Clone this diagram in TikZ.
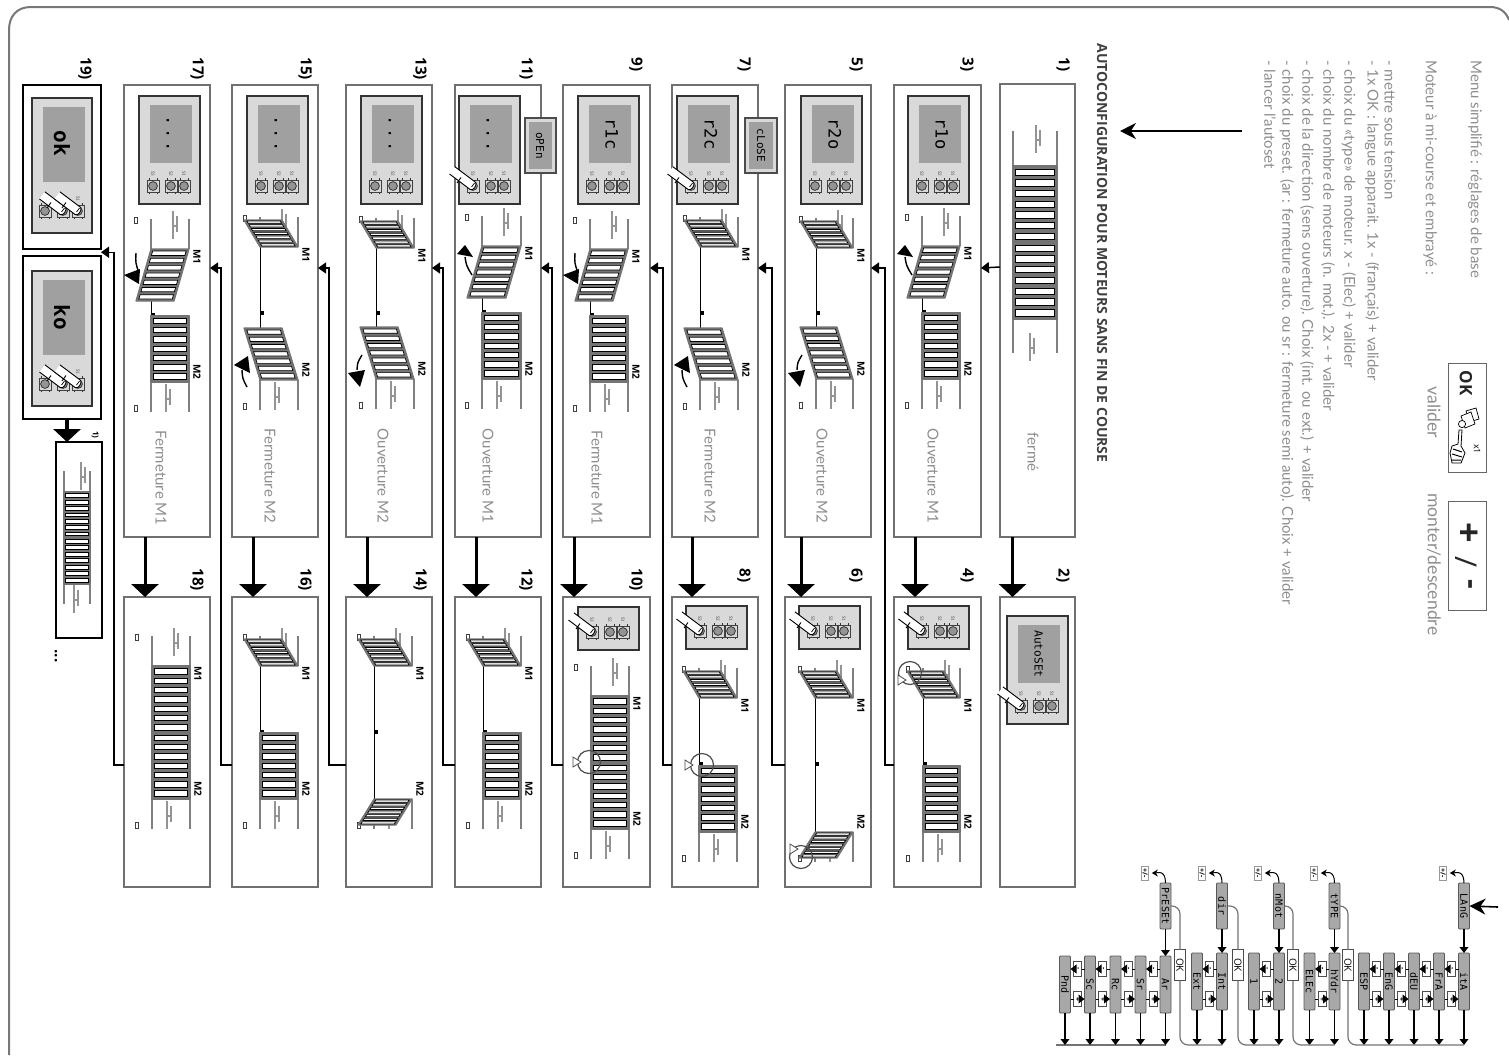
\documentclass[tikz,border=0pt]{standalone}
\usepackage{graphicx}
\usepackage{fontspec}
\usetikzlibrary{arrows.meta,calc}
\setmainfont{Lato}
\newfontfamily\segf{DejaVu Sans Mono}
\newfontfamily\headf{Open Sans}
\definecolor{bline}{HTML}{777777}
\definecolor{pline}{HTML}{707070}
\definecolor{lighttxt}{HTML}{8E8E8E}
\definecolor{boardbg}{HTML}{D9D9D9}
\definecolor{lcdbg}{HTML}{A0A0A0}
\definecolor{frameg}{HTML}{747474}
\definecolor{railg}{HTML}{808080}
\definecolor{tickg}{HTML}{949494}
\definecolor{nodeg}{HTML}{A8A8A8}
\newcommand{\rt}[1]{\rotatebox{-90}{#1}}
\tikzset{
  panelbox/.style={draw=pline,line width=.55pt,inner sep=0pt,outer sep=0pt,fill=white},
  strongbox/.style={draw=black,line width=1pt,inner sep=0pt,outer sep=0pt,fill=white},
  gtext/.style={inner sep=0pt,text=lighttxt,font=\fontsize{7.5}{9}\selectfont},
  gtextb/.style={inner sep=0pt,text=lighttxt,font=\fontsize{8.8}{10}\selectfont},
  htext/.style={inner sep=0pt,text=black!75,font=\headf\bfseries\fontsize{7}{8}\selectfont},
  numtext/.style={inner sep=0pt,text=black,font=\headf\bfseries\fontsize{7.6}{9}\selectfont},
  mtext/.style={inner sep=0pt,text=black,font=\headf\bfseries\fontsize{5}{6}\selectfont},
  lcdtext/.style={inner sep=0pt,text=black,font=\segf\fontsize{8.5}{9}\selectfont},
  leafframe/.style={draw=black!55,fill=frameg,line width=.6pt,line join=round},
  slat/.style={draw=black,fill=white,line width=.35pt},
  rail/.style={draw=railg,line width=.7pt},
  tickline/.style={draw=tickg,line width=.55pt},
  bigarrow/.style={draw=black,line width=1.5pt,-{Triangle[length=6.5pt,width=13.5pt]}},
  elbowarrow/.style={draw=black,line width=.75pt,-{Triangle[length=4pt,width=5.5pt]}},
  fnode/.style={draw=black!65,fill=nodeg,rounded corners=.5pt,inner sep=0pt,outer sep=0pt,
     text=black,font=\segf\fontsize{5}{6}\selectfont,minimum width=5.5pt},
  smallbox/.style={draw=black!70,fill=white,inner sep=0pt,outer sep=0pt,text=black,line width=.35pt,
     font=\headf\bfseries\fontsize{3.5}{4}\selectfont,minimum width=4pt,minimum height=7.5pt},
  okbox/.style={draw=black!70,fill=white,inner sep=0pt,outer sep=0pt,text=black,line width=.4pt,
     font=\headf\fontsize{5}{6}\selectfont,minimum width=5.5pt,minimum height=15.5pt},
  pmbox/.style={draw=black!40,fill=white,inner sep=0pt,outer sep=0pt,text=black,line width=.4pt,
     font=\headf\bfseries\fontsize{3.5}{4}\selectfont,minimum width=3.8pt,minimum height=7pt},
  farrow/.style={draw=black,line width=.55pt,-{Triangle[length=3pt,width=4.4pt]}},
  fgray/.style={draw=black!55,line width=.6pt,rounded corners=4pt}
}
\newcommand{\panel}[6][panelbox]{%
  \node[#1,minimum width={(#5-#3)*0.5pt},minimum height={(#6-#4)*0.5pt}] (#2) at ({(#3+#5)/2},{(#4+#6)/2}) {};}
\newcommand{\leaf}[5]{%
  \draw[leafframe] (#1,#3) -- (#2,#3) -- ({#2+#5},{#4}) -- ({#1+#5},{#4}) -- cycle;
  \foreach \i in {0,...,6}{%
    \pgfmathsetmacro\ta{0.04+0.14*\i}%
    \pgfmathsetmacro\tb{\ta+0.083}%
    \draw[slat] ({#1+0.06*(#2-#1)+\ta*(#5)},{#3+\ta*(#4-#3)}) -- ({#2-0.06*(#2-#1)+\ta*(#5)},{#3+\ta*(#4-#3)}) -- ({#2-0.06*(#2-#1)+\tb*(#5)},{#3+\tb*(#4-#3)}) -- ({#1+0.06*(#2-#1)+\tb*(#5)},{#3+\tb*(#4-#3)}) -- cycle;
  }}
\newcommand{\moneC}[3]{\leaf{#1}{#2}{#3}{#3+66.5}{0}}
\newcommand{\moneH}[3]{\leaf{#1}{#2}{#3}{#3+52}{-15}}
\newcommand{\moneO}[3]{\leaf{#1}{#2}{#3}{#3-27}{-16}}
\newcommand{\mtwoC}[3]{\leaf{#1}{#2}{#3}{#3-66.5}{0}}
\newcommand{\mtwoH}[3]{\leaf{#1}{#2}{#3}{#3-52}{-16}}
\newcommand{\mtwoO}[3]{\leaf{#1}{#2}{#3}{#3+26}{-16}}
\newcommand{\tickm}[2]{%
  \draw[tickline] ({#1},{#2-14}) -- ({#1},{#2+14});
  \draw[tickline] ({#1+4},{#2-9}) -- ({#1+4},{#2+7});
  \draw[tickline] ({#1},{#2+1}) -- ({#1+4},{#2+1});}
\newcommand{\lampm}[2]{\draw[draw=black!75,fill=white,line width=.35pt] ({#1-1.5},{#2-3}) rectangle ({#1+1.5},{#2+3});}
\newcommand{\gate}[6]{%
  \draw[rail] (#1,{#3-30}) -- (#1,#3) (#2,{#3-30}) -- (#2,#3) (#1,#4) -- (#1,{#4+30}) (#2,#4) -- (#2,{#4+30});
  \tickm{#1+22}{#3-24}
  \tickm{#1+15}{#4+16}
  \lampm{#1-15}{#3-29}
  \lampm{#1-15}{#4+26}
  \draw[black,line width=.5pt] (#1,#3) -- (#1,#4);
  \fill[black] ({#1},{(#3+#4)/2-3}) rectangle ({#1+4},{(#3+#4)/2+1});
  \csname mone#5\endcsname{#1}{#2}{#3}
  \csname mtwo#6\endcsname{#1}{#2}{#4}
  \node[mtext] (mone#1) at ({#2+8},{#3+8}) {\rt{M1}};
  \node[mtext] (mtwo#1) at ({#2+8},{#4-10}) {\rt{M2}};}
\newcommand{\onebtn}[3]{%
  \draw[black!80,line width=.5pt] ({#1-4},{#2-8}) -- ({#1-4},{#2+8}) ({#1+4},{#2-8}) -- ({#1+4},{#2+8});
  \draw[draw=black!75,fill=boardbg,line width=.5pt] ({#1-6},{#2-6}) rectangle ({#1+6},{#2+6});
  \draw[draw=black!80,fill=black!42,line width=.4pt] ({#1},{#2}) circle[radius=4.4];
  \node[inner sep=0pt,text=black!70,font=\fontsize{2.2}{3}\selectfont] (lab#3x#1) at ({#1},{#2-12}) {\rt{#3}};}
\newcommand{\btns}[2]{\onebtn{#1+14}{#2}{S3}\onebtn{#1+32}{#2}{S2}\onebtn{#1+45}{#2}{S1}}
\newcommand{\boardL}[3]{%
  \draw[draw=black!80,fill=boardbg,line width=.8pt] (#1,#2) rectangle ({#1+61},{#2+108});
  \fill[lcdbg] ({#1+11},{#2+9}) rectangle ({#1+53},{#2+67});
  \node[lcdtext] (lcd#1) at ({#1+32},{#2+38}) {\rt{\vphantom{Ag}#3}};
  \btns{#1}{#2+90}}
\newcommand{\boardS}[2]{%
  \draw[draw=black!80,fill=boardbg,line width=.8pt] (#1,#2) rectangle ({#1+61},{#2+43});
  \btns{#1}{#2+25}}
\newcommand{\finger}[2]{%
  \fill[white] ({#1+2.7},{#2-3.6}) .. controls ({#1+4},{#2}) and ({#1},{#2+5}) .. ({#1-2.7},{#2+3.6}) -- ({#1-23.5},{#2-12}) -- ({#1-18.1},{#2-19.2}) -- cycle;
  \draw[black,line width=.45pt] ({#1-18.1},{#2-19.2}) -- ({#1+2.7},{#2-3.6}) .. controls ({#1+4},{#2}) and ({#1},{#2+5}) .. ({#1-2.7},{#2+3.6}) -- ({#1-23.5},{#2-12});
  \draw[black,line width=.45pt] ({#1-16},{#2-3}) -- ({#1-12},{#2-8.5});
  \draw[black,line width=.35pt] ({#1-1.5},{#2+1}) -- ({#1+1.5},{#2-3});}
\newcommand{\spot}[4]{%
  \draw[draw=black!70,line width=.6pt] (#1,#2) circle[radius=11.5];
  \draw[draw=black!70,fill=white,line width=.4pt] ({#1+#3},{#2+#4-5}) -- ({#1+#3},{#2+#4+5}) -- ({#1+#3+8},{#2+#4}) -- cycle;}
\newcommand{\swing}[7]{%
  \draw[black,line width=.7pt] ({#1},{#2}) .. controls ({(#1+#3)/2-2},{(#2+#4)/2}) .. ({#3},{#4});
  \fill[black] #5 -- #6 -- #7 -- cycle;}
\newcommand{\swingOneOpen}[1]{\swing{#1-10}{275}{#1-17}{257}{({#1-25},254)}{({#1-9},257)}{({#1-17},245)}}
\newcommand{\swingOneClose}[1]{\swing{#1-15}{253}{#1-12}{273}{({#1-27},275)}{({#1-11},269)}{({#1-12},284)}}
\newcommand{\swingTwoOpen}[1]{\swing{#1-14}{355}{#1-19}{370}{({#1-28},373)}{({#1-11},370)}{({#1-16},387)}}
\newcommand{\swingTwoClose}[1]{\swing{#1-13}{387}{#1-18}{370}{({#1-26},365)}{({#1-10},373)}{({#1-12},356)}}
\newcommand{\leftlabel}[4]{\node[gtext,anchor=center] (#1) at (#2,#3) {\rt{#4}};}
\newcommand{\numlabel}[4]{\node[numtext,anchor=north] (#1) at (#2,#3) {\rt{#4}};}
\newcommand{\bigarr}[3]{\draw[bigarrow] ([xshift=#3*0.5pt]#1.south) -- ([xshift=#3*0.5pt]#1.south |- #2.north);}
\newcommand{\elbowm}[3]{\draw[elbowarrow] ([yshift=-11.5pt]#1.west) -- ++(-#3,0) |- ([yshift=21.5pt]#2.east);}
\begin{document}
\begin{tikzpicture}[x=0.5pt,y=-0.5pt]
\useasboundingbox (0,0) rectangle (1509,1055);
% page border
\draw[bline,line width=1pt] (9,1055) -- (9,30) .. controls (9,16) and (17,7) .. (31,7) -- (1490,7) .. controls (1500,7) and (1506,12) .. (1509,20);

% explanatory text
\node[gtext,anchor=north] (tmenu) at (1475,60) {\rt{Menu simplifié : réglages de base}};
\node[gtext,anchor=north] (tmot) at (1430,60) {\rt{Moteur à mi-course et embrayé :}};
\node[gtext,anchor=north] (t1) at (1390,60) {\rt{- mettre sous tension}};
\node[gtext,anchor=north] (t2) at (1372,60) {\rt{- 1x OK : langue apparait. 1x - (français) + valider}};
\node[gtext,anchor=north] (t3) at (1349,60) {\rt{- choix du «type» de moteur. x - (Elec) + valider}};
\node[gtext,anchor=north] (t4) at (1328,60) {\rt{- choix du nombre de moteurs (n. mot.). 2x - + valider}};
\node[gtext,anchor=north] (t5) at (1307,60) {\rt{- choix de la direction (sens ouverture). Choix (int. ou ext.) + valider}};
\node[gtext,anchor=north] (t6) at (1287,60) {\rt{- choix du preset. (ar : fermeture auto. ou sr : fermeture semi auto). Choix + valider}};
\node[gtext,anchor=north] (t7) at (1270,60) {\rt{- lancer l'autoset}};
\node[htext,anchor=north] (thead) at (1102,43) {\rt{AUTOCONFIGURATION POUR MOTEURS SANS FIN DE COURSE}};
\coordinate (toparrowA) at (1242,131);
\coordinate (toparrowB) at (1120,131);
\draw[black,line width=.8pt,-{Stealth[length=8pt,width=8pt]}] (toparrowA) -- (toparrowB);

% legend boxes
\node[draw=black!60,line width=.4pt,inner sep=0pt,minimum width=19pt,minimum height=54.5pt] (legok) at (1467,417.5) {};
\node[inner sep=0pt,font=\headf\bfseries\fontsize{8.5}{10}\selectfont,text=black!85] (legoktxt) at (1466,383) {\rt{OK}};
\draw[black,fill=white,line width=.35pt] (1466,411) -- (1476,408) -- (1479,419) -- (1469,422) -- cycle;
\draw[black,fill=white,line width=.35pt] (1461,416) -- (1471,412) -- (1475,424) -- (1465,428) -- cycle;
\draw[black,fill=white,line width=.35pt] (1462,424) circle[radius=3.6];
\draw[black,fill=white,line width=.4pt] (1459,430) -- (1458,444) -- (1452,446) -- (1450,453) -- (1452,463) -- (1461,463) -- (1465,453) -- (1461,446) -- (1462,430) -- cycle;
\draw[black,line width=.5pt] (1453,449) -- (1462,452) (1452,454) -- (1462,457) (1452,460) -- (1461,460);
\node[inner sep=0pt,font=\headf\fontsize{4.5}{5}\selectfont,text=black] (legx) at (1477,449) {\rt{x1}};
\node[gtextb,anchor=north] (legval) at (1434,386) {\rt{valider}};
\node[draw=black!60,line width=.4pt,inner sep=0pt,minimum width=19pt,minimum height=54.5pt] (legpm) at (1467,556) {};
\node[inner sep=0pt,text=black!85,font=\headf\bfseries\fontsize{18}{20}\selectfont] (legplus) at (1467,533) {\rt{+}};
\node[inner sep=0pt,text=black!85,font=\headf\fontsize{15}{16}\selectfont] (legslash) at (1466,562) {\rt{/}};
\node[inner sep=0pt,text=black!85,font=\headf\bfseries\fontsize{15}{16}\selectfont] (legminus) at (1467,584) {\rt{-}};
\node[gtextb,anchor=north] (legmd) at (1434,493) {\rt{monter/descendre}};

% panels
\panel{p1}{1000}{84}{1075}{537}\panel{p2}{1000}{597}{1075}{887}
\panel{p3}{894}{85}{981}{537}\panel{p4}{894}{597}{981}{887}
\panel{p5}{785}{85}{871}{537}\panel{p6}{785}{597}{871}{887}
\panel{p7}{672}{85}{758}{537}\panel{p8}{672}{597}{758}{887}
\panel{p9}{563}{85}{650}{537}\panel{p10}{563}{597}{650}{887}
\panel{p11}{455}{85}{541}{537}\panel{p12}{455}{597}{541}{887}
\panel{p13}{346}{85}{432}{537}\panel{p14}{346}{597}{432}{887}
\panel{p15}{232}{85}{318}{537}\panel{p16}{232}{597}{318}{887}
\panel{p17}{124}{85}{210}{537}\panel{p18}{124}{597}{210}{887}
\panel[strongbox]{ok}{23}{85}{101}{249}
\panel[strongbox]{ko}{23}{256}{101}{419}
\panel[strongbox]{mini}{56}{442}{102}{638}

% number labels
\numlabel{n1}{1063}{57}{1)}\numlabel{n2}{1063}{568}{2)}
\numlabel{n3}{967}{57}{3)}\numlabel{n4}{967}{568}{4)}
\numlabel{n5}{856}{57}{5)}\numlabel{n6}{856}{568}{6)}
\numlabel{n7}{744}{57}{7)}\numlabel{n8}{744}{568}{8)}
\numlabel{n9}{636}{57}{9)}\numlabel{n10}{636}{568}{10)}
\numlabel{n11}{526}{57}{11)}\numlabel{n12}{526}{568}{12)}
\numlabel{n13}{420}{57}{13)}\numlabel{n14}{420}{568}{14)}
\numlabel{n15}{305}{57}{15)}\numlabel{n16}{305}{568}{16)}
\numlabel{n17}{197}{57}{17)}\numlabel{n18}{197}{568}{18)}
\numlabel{n19}{85}{57}{19)}
\node[numtext,font=\headf\bfseries\fontsize{4}{5}\selectfont] (nmini) at (95,435) {\rt{1)}};
\node[numtext,anchor=north] (ndots) at (56,649) {\rt{...}};

% panel 1
\draw[rail] (1013,131) -- (1013,353) (1057,131) -- (1057,353);
\tickm{1036}{139}
\tickm{1030}{347}
\leaf{1013}{1057}{166}{242}{0}
\leaf{1013}{1057}{319}{242}{0}
\leftlabel{tferme}{1033}{452}{fermé}
% panel 2
\boardL{1007}{616}{\fontsize{5.6}{6}\selectfont AutoSEt}
\finger{1021}{706}

% left column panels
\gate{922}{960}{246}{379}{H}{C}\boardL{908}{96}{r1o}\swingOneOpen{922}\leftlabel{t3l}{933}{476}{Ouverture M1}
\gate{816}{853}{248}{379}{O}{H}\boardL{801}{96}{r2o}\swingTwoOpen{816}\leftlabel{t5l}{822}{476}{Ouverture M2}
\gate{700}{738}{247}{380}{O}{H}\boardL{677}{96}{r2c}\finger{691}{186}\swingTwoClose{700}\leftlabel{t7l}{710}{476}{Fermeture M2}
\gate{590}{628}{249}{382}{H}{C}\boardL{578}{96}{r1c}\swingOneClose{590}\leftlabel{t9l}{597}{478}{Fermeture M1}
\gate{482}{521}{246}{379}{H}{C}\boardL{459}{96}{.\hspace{1.4pt}.\hspace{1.4pt}.}\finger{473}{186}\swingOneOpen{482}\leftlabel{t11l}{488}{476}{Ouverture M1}
\gate{376}{414}{248}{379}{O}{H}\boardL{361}{96}{.\hspace{1.4pt}.\hspace{1.4pt}.}\swingTwoOpen{376}\leftlabel{t13l}{383}{476}{Ouverture M2}
\gate{260}{298}{247}{380}{O}{H}\boardL{247}{96}{.\hspace{1.4pt}.\hspace{1.4pt}.}\swingTwoClose{260}\leftlabel{t15l}{270}{476}{Fermeture M2}
\gate{151}{189}{249}{382}{H}{C}\boardL{139}{96}{.\hspace{1.4pt}.\hspace{1.4pt}.}\swingOneClose{151}\leftlabel{t17l}{161}{478}{Fermeture M1}

% right column panels
\gate{923}{960}{698}{832}{O}{C}\boardS{908}{606}\finger{922}{631}\spot{910}{673}{-12}{7}
\gate{815}{853}{698}{832}{O}{O}\boardS{799}{606}\finger{813}{631}\spot{801}{857}{-11}{-8}
\gate{699}{737}{698}{832}{O}{C}\boardS{686}{606}\finger{700}{631}\spot{702}{765}{-17}{0}
\gate{591}{629}{696}{829}{C}{C}\boardS{578}{607}\finger{592}{632}\spot{589}{762}{-16}{0}
\gate{483}{521}{666}{799}{O}{C}
\gate{374}{412}{666}{799}{O}{O}
\gate{260}{298}{666}{799}{O}{C}
\gate{152}{190}{666}{799}{C}{C}

% message boxes
\draw[draw=black!70,fill=boardbg,line width=.6pt] (745,118) rectangle (777,173);
\fill[lcdbg] (749,122) rectangle (773,169);
\node[inner sep=0pt,text=black,font=\segf\fontsize{5.5}{6}\selectfont] (tclose) at (761,145.5) {\rt{cLoSE}};
\draw[draw=black!70,fill=boardbg,line width=.6pt] (525,118) rectangle (556,173);
\fill[lcdbg] (529,122) rectangle (552,169);
\node[inner sep=0pt,text=black,font=\segf\fontsize{5.5}{6}\selectfont] (topen) at (540,145.5) {\rt{oPEn}};

% ok / ko
\draw[draw=black!80,fill=boardbg,line width=.8pt] (32,98) rectangle (92,233);
\fill[lcdbg] (43,107) rectangle (85,182);
\node[lcdtext,font=\segf\bfseries\fontsize{10.5}{11}\selectfont] (tok) at (62,143) {\rt{ok}};
\onebtn{45}{211}{S3}\onebtn{63}{211}{S2}\onebtn{78}{211}{S1}
\finger{63}{211}\finger{78}{211}
\draw[draw=black!80,fill=boardbg,line width=.8pt] (32,271) rectangle (92,406);
\fill[lcdbg] (43,280) rectangle (85,355);
\node[lcdtext,font=\segf\bfseries\fontsize{10.5}{11}\selectfont] (tko) at (62,317) {\rt{ko}};
\onebtn{45}{384}{S3}\onebtn{63}{384}{S2}\onebtn{78}{384}{S1}
\finger{63}{384}\finger{78}{384}
% mini gate
\draw[rail] (64,471) -- (64,604) (90,471) -- (90,604);
\tickm{81}{476}
\tickm{74}{599}
\leaf{64}{90}{492}{537.5}{0}
\leaf{64}{90}{584}{537.5}{0}

% connectors
\draw[elbowarrow] ([yshift=21.75pt]p1.west) -- ([yshift=21.5pt]p3.east);
\bigarr{p1}{p2}{-25}
\bigarr{p3}{p4}{-22.5}
\bigarr{p5}{p6}{-27}
\bigarr{p7}{p8}{-23}
\bigarr{p9}{p10}{-32.5}
\bigarr{p11}{p12}{-22}
\bigarr{p13}{p14}{-22}
\bigarr{p15}{p16}{-22}
\bigarr{p17}{p18}{-22}
\elbowm{p4}{p5}{9}
\elbowm{p6}{p7}{13}
\elbowm{p8}{p9}{9}
\elbowm{p10}{p11}{11}
\elbowm{p12}{p13}{12}
\elbowm{p14}{p15}{17}
\elbowm{p16}{p17}{11}
\coordinate (gapc) at ($(ok.east)!0.5!(ko.east)$);
\draw[elbowarrow] ([yshift=-11.5pt]p18.west) -- ++(-10,0) |- (gapc);
\draw[bigarrow,line width=2pt,-{Triangle[length=6.5pt,width=13.5pt]}] ([xshift=2.5pt]ko.south) -- ([xshift=2.5pt]ko.south |- mini.north);

% flow diagram
\foreach \nm/\xx/\lb in {fp/1165.5/PrESEt,fd/1222/dir,fm/1279/nMot,ft/1334.5/tYPE,fl/1464/LAnG}{
  \node[fnode,minimum height=23pt] (\nm) at (\xx,906) {\rt{\lb}};
}
\foreach \nm/\xx/\lb in {ita/1464/itA,fra/1439/FrA,deu/1414/dEU,eng/1389/EnG,esp/1364/ESP,hyd/1334.5/hYdr,ele/1309.5/ELEc,two/1279/2,one/1254/1,int/1222/Int,ext/1197/Ext}{
  \node[fnode,minimum height=28.5pt] (\nm) at (\xx,981.5) {\rt{\lb}};
}
\foreach \nm/\xx/\lb in {ar/1165.5/Ar,sr/1140.5/Sr,rc/1115.5/Rc,sc/1090/Sc,pnd/1065/Pnd}{
  \node[fnode,minimum height=28.5pt] (\nm) at (\xx,984.5) {\rt{\lb}};
}
\coordinate (bus) at (1056,1045);
\draw[fgray] (bus) -- (ar.south |- bus);
\foreach \a/\b in {fp/ar,fd/int,fm/two,ft/hyd,fl/ita}{
  \draw[farrow] (\a.south) -- (\b.north);
}
\foreach \a in {ar,sr,rc,sc,pnd,int,ext,two,one,hyd,ele,ita,fra,deu,eng,esp}{
  \draw[farrow] (\a.south) -- (\a.south |- bus);
}
% OK boxes and gray returns
\foreach \s/\o/\tg/\xx in {fp/ok1/int/1180,fd/ok2/two/1238,fm/ok3/hyd/1293,ft/ok4/ita/1348}{
  \node[okbox] (\o) at (\xx,965) {\rt{OK}};
  \draw[fgray] (\s.east) -| (\o.north);
  \draw[fgray] (\o.south) |- (\tg.south |- bus);
}
% +/- boxes between values
\foreach \r/\l in {ita/fra,fra/deu,deu/eng,eng/esp,hyd/ele,int/ext,two/one,ar/sr,sr/rc,rc/sc,sc/pnd}{
  \coordinate (mm\r) at ($(\r.center)!0.5!(\l.center)$);
  \node[smallbox] (minus\r) at (mm\r |- 0,969) {\rt{-}};
  \node[smallbox] (plus\r) at (mm\r |- 0,999) {\rt{+}};
  \draw[farrow] (minus\r.west) -- (\l.east |- minus\r);
  \draw[black,line width=.5pt] (minus\r.east) -- (\r.west |- minus\r);
  \draw[farrow] (plus\r.east) -- (\r.west |- plus\r);
  \draw[black,line width=.5pt] (plus\r.west) -- (\l.east |- plus\r);
}
% top +/- hints
\foreach \s/\b/\xx in {fp/pm1/1145,fd/pm2/1202,fm/pm3/1258,ft/pm4/1314,fl/pm5/1443}{
  \node[pmbox] (\b) at (\xx,873) {\rt{+/-}};
  \draw[black,line width=.5pt,-{Stealth[length=3pt,width=3.5pt]},shorten >=1.5pt] (\s.north) .. controls +(0,-14) and +(8,0) .. (\b.east);
}
\coordinate (langin) at (1498,907);
\draw[black,line width=.8pt,-{Stealth[length=8pt,width=8pt]}] (langin) -- (fl.east);
\end{tikzpicture}
\end{document}
